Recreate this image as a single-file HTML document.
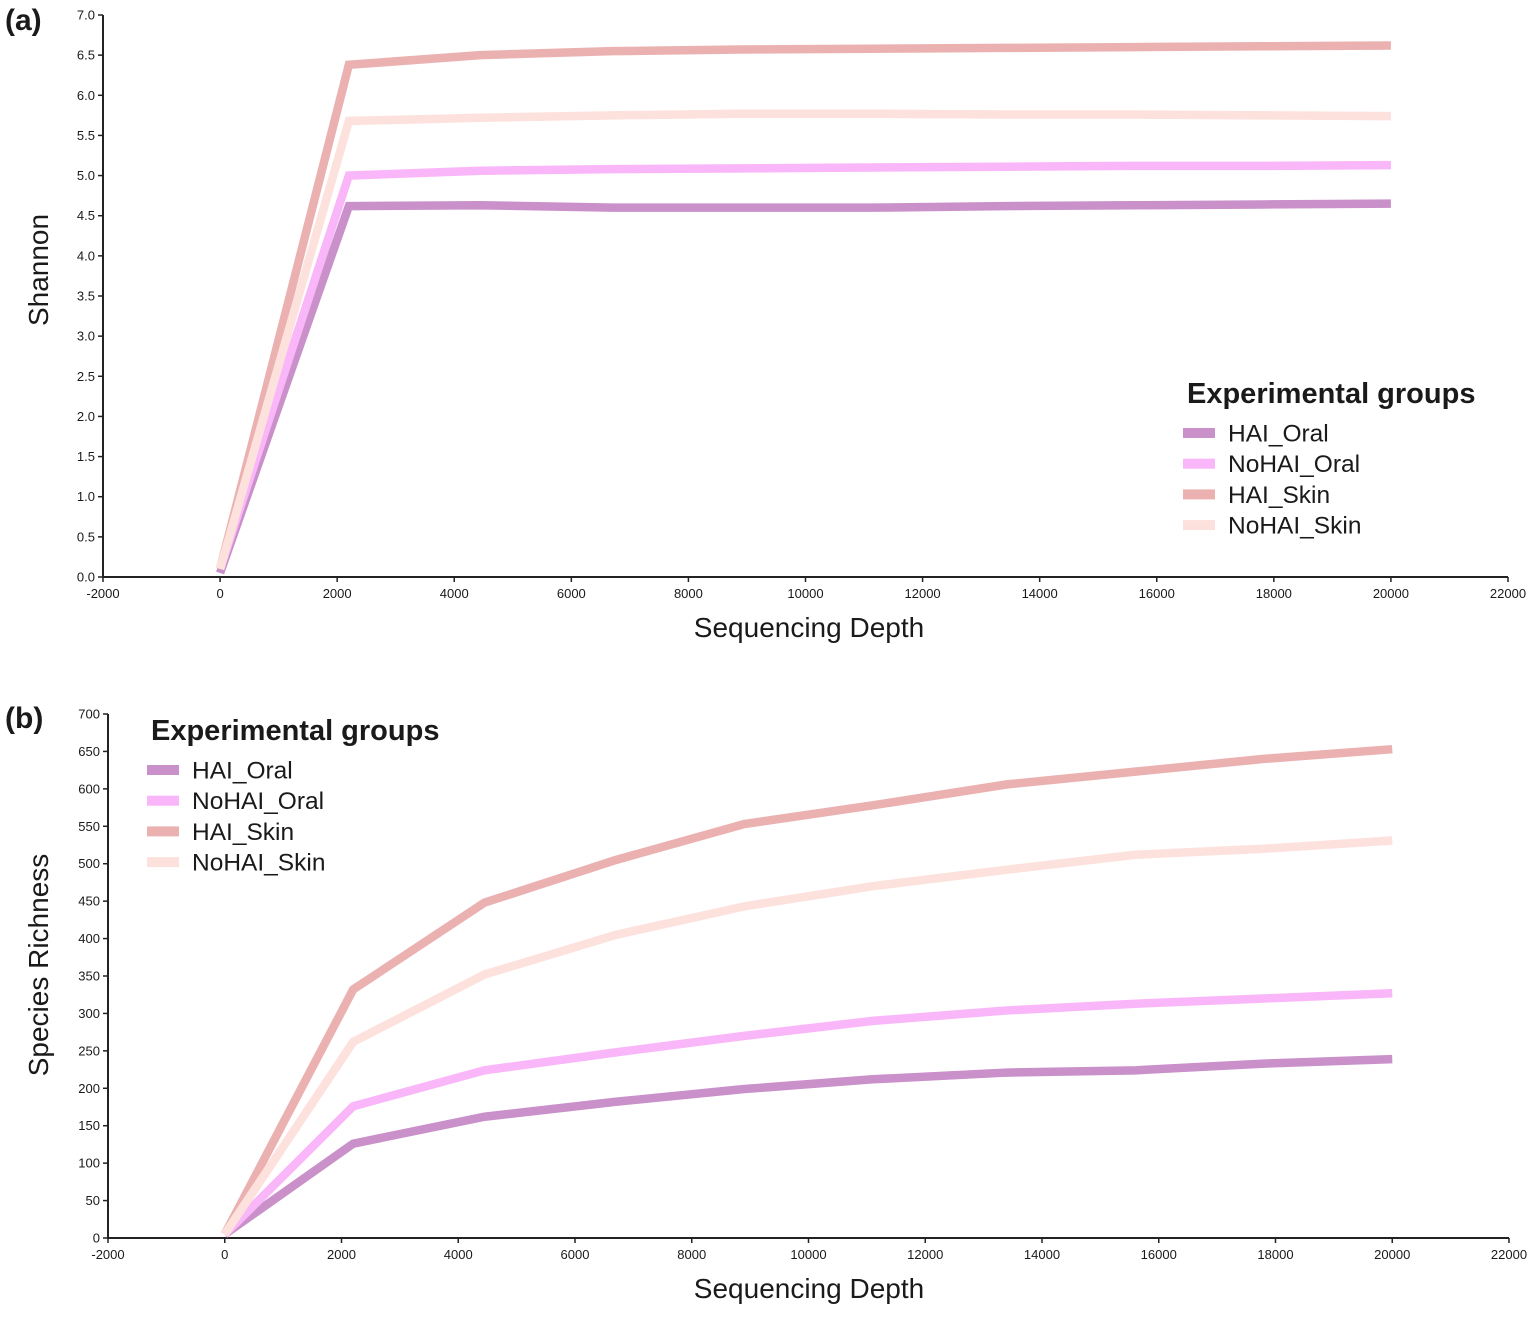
<!DOCTYPE html>
<html><head><meta charset="utf-8"><style>
body{margin:0;background:#fff;}
svg text{font-family:"Liberation Sans",Arial,sans-serif;fill:#1a1a1a;}
.tick{font-size:13px;}
.ttl{font-size:28px;}
.leg{font-size:24.5px;}
.legt{font-size:29px;font-weight:bold;}
</style></head><body>
<svg id="s" width="1535" height="1313"></svg>
<script>
const depths=[0,2200,4450,6700,8900,11100,13400,15600,17800,20000];
const groups=["HAI_Oral","NoHAI_Oral","HAI_Skin","NoHAI_Skin"];
const colors=["#c990c9","#f9b6f9","#ebb1b1","#fde1dd"];
const shannonHAIOral=[0.05,4.62,4.63,4.6,4.6,4.6,4.62,4.63,4.64,4.65];
const shannonNoHAIOral=[0.1,5.0,5.06,5.08,5.09,5.1,5.11,5.12,5.12,5.13];
const shannonHAISkin=[0.1,6.38,6.5,6.55,6.57,6.58,6.59,6.6,6.61,6.62];
const shannonNoHAISkin=[0.1,5.68,5.72,5.75,5.77,5.77,5.76,5.76,5.75,5.74];
const richHAIOral=[5,126,162,182,199,212,221,224,233,239];
const richNoHAIOral=[5,176,224,248,270,290,304,313,320,327];
const richHAISkin=[5,332,448,505,553,578,606,623,640,653];
const richNoHAISkin=[5,262,352,405,443,470,492,512,520,531];
const xTicks=[-2000,0,2000,4000,6000,8000,10000,12000,14000,16000,18000,20000,22000];
const shannonTicks=[0,0.5,1,1.5,2,2.5,3,3.5,4,4.5,5,5.5,6,6.5,7];
const richTicks=[0,50,100,150,200,250,300,350,400,450,500,550,600,650,700];
const NS="http://www.w3.org/2000/svg";
const svg=document.getElementById('s');
function mk(t,a,p){const e=document.createElementNS(NS,t);for(const k in a)e.setAttribute(k,a[k]);(p||svg).appendChild(e);return e;}
function panel(cfg){
  const g=mk('g',{});
  
  
  const X=v=>cfg.x0+(v+2000)/24000*(cfg.x1-cfg.x0);
  const Y=v=>cfg.yb+(v-cfg.ymin)/(cfg.ymax-cfg.ymin)*(cfg.yt-cfg.yb);
  const ax=mk('path',{d:`M${cfg.x0} ${cfg.yt}V${cfg.yb}H${cfg.x1}`,stroke:'#222','stroke-width':2,fill:'none'},g);
  
  xTicks.forEach(t=>{const x=X(t);mk('line',{x1:x,x2:x,y1:cfg.yb,y2:cfg.yb+5,stroke:'#222','stroke-width':1.5},g);
    const tx=mk('text',{x:x,y:cfg.yb+21,'text-anchor':'middle',class:'tick'},g);tx.textContent=t;
    });
  cfg.yticks.forEach(t=>{const y=Y(t);mk('line',{x1:cfg.x0-5,x2:cfg.x0,y1:y,y2:y,stroke:'#222','stroke-width':1.5},g);
    const tx=mk('text',{x:cfg.x0-8,y:y+4.5,'text-anchor':'end',class:'tick'},g);tx.textContent=cfg.fmt(t);
    });
  cfg.series.forEach((s,i)=>{const p=mk('polyline',{points:s.map((v,j)=>X(depths[j])+','+Y(v)).join(' '),fill:'none',stroke:colors[i],'stroke-width':8.5,'stroke-linejoin':'miter'},g);
    });
  const xt=mk('text',{x:809,y:cfg.yb+60,'text-anchor':'middle',class:'ttl'},g);xt.textContent='Sequencing Depth';
  
  const yt=mk('text',{x:0,y:0,'text-anchor':'middle',class:'ttl',transform:`translate(48 ${cfg.ytc}) rotate(-90)`},g);yt.textContent=cfg.ytitle;
  
  const pl=mk('text',{x:5,y:cfg.labY,style:'font-size:30px;font-weight:bold'},g);pl.textContent=cfg.label;
  
  const lg=mk('g',{},g);
  const lt=mk('text',{x:cfg.lx+4,y:cfg.ly,class:'legt'},lg);lt.textContent='Experimental groups';
  
  groups.forEach((n,i)=>{const y=cfg.ly+30+i*30.7;
    const sw=mk('rect',{x:cfg.lx,y:y-5,width:32,height:10,fill:colors[i]},lg);
    
    const t=mk('text',{x:cfg.lx+45,y:y+8.5,class:'leg'},lg);t.textContent=n;
    });
}
panel({name:'shannon-chart',x0:103,x1:1508,yt:15,yb:577,ymin:0,ymax:7,yticks:shannonTicks,fmt:t=>t.toFixed(1),
  series:[shannonHAIOral,shannonNoHAIOral,shannonHAISkin,shannonNoHAISkin],ytitle:'Shannon',ytc:270,label:'(a)',labY:30,lx:1183,ly:403});
panel({name:'richness-chart',x0:108,x1:1509,yt:714,yb:1238,ymin:0,ymax:700,yticks:richTicks,fmt:t=>t,
  series:[richHAIOral,richNoHAIOral,richHAISkin,richNoHAISkin],ytitle:'Species Richness',ytc:965,label:'(b)',labY:728,lx:147,ly:740});
</script>
</body></html>
